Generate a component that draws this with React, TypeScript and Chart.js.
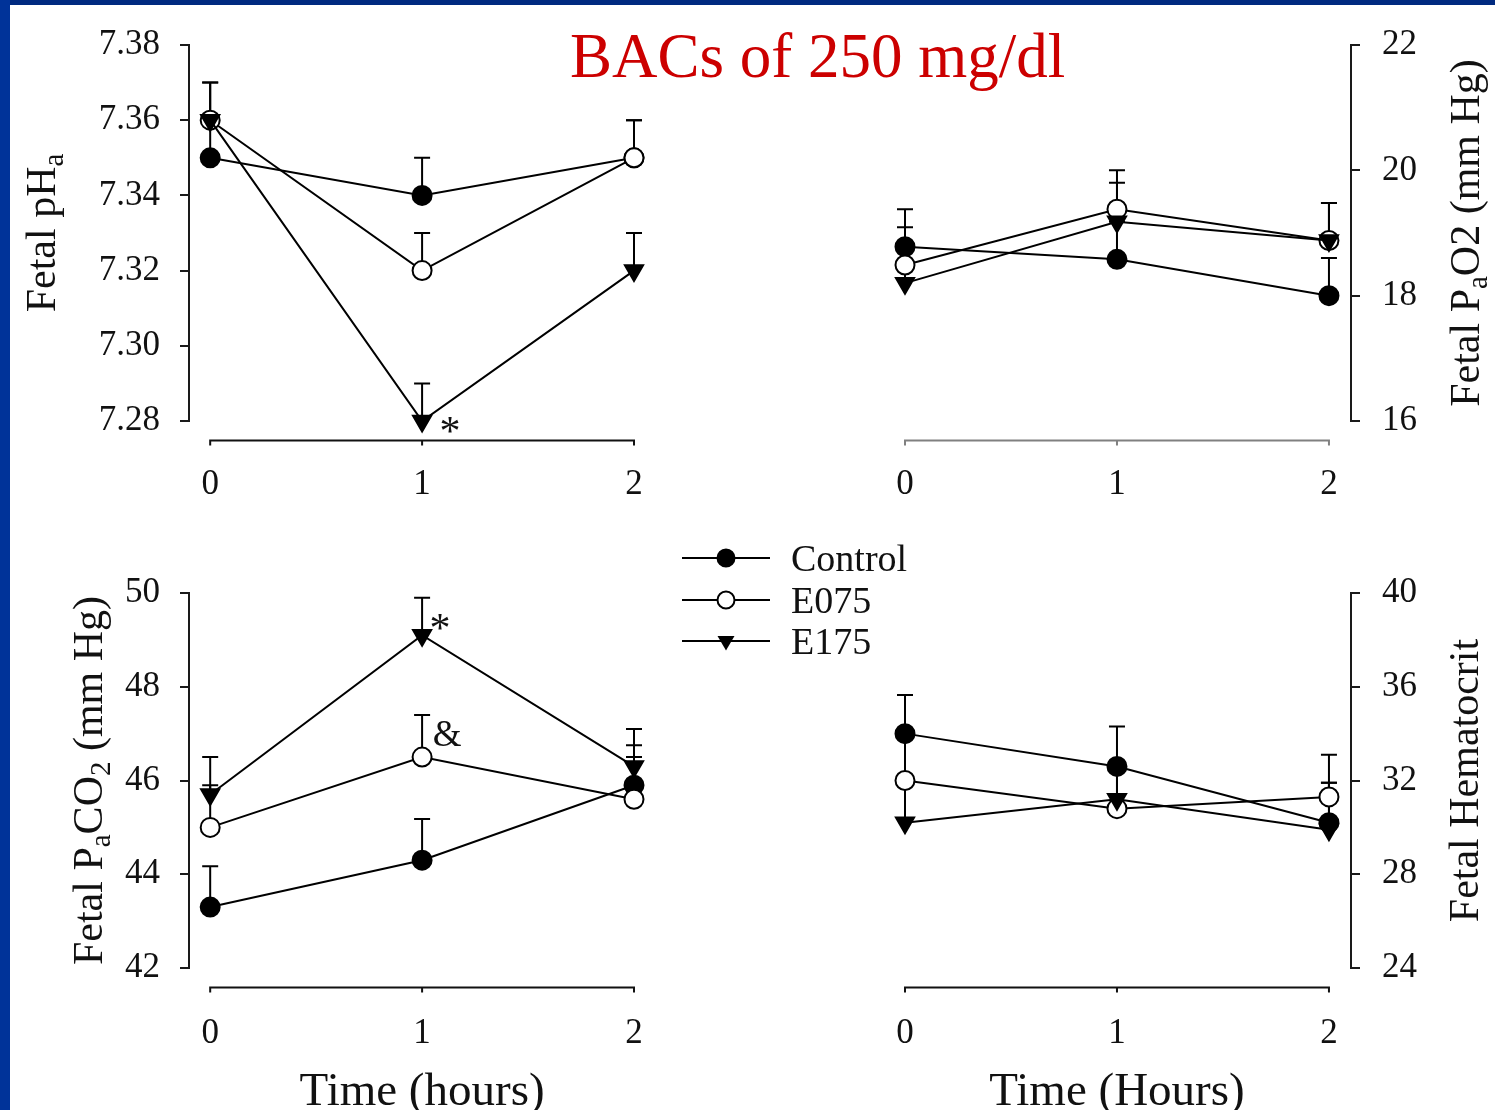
import React, { useEffect, useRef } from 'react';
import { Chart, registerables } from 'chart.js';

Chart.register(...registerables);

// ---------------- data ----------------
const timePoints = [0, 1, 2];
const timeTickLabels = ['0', '1', '2'];
const seriesNames = ['Control', 'E075', 'E175'];

// Fetal pHa
const phControl = [7.35, 7.34, 7.35];
const phE075 = [7.36, 7.32, 7.35];
const phE175 = [7.36, 7.28, 7.32];
const phControlSE = [0.01, 0.01, 0.01];
const phE075SE = [0.01, 0.01, 0.01];
const phE175SE = [0.01, 0.01, 0.01];
const phTicks = [7.28, 7.3, 7.32, 7.34, 7.36, 7.38];
const phTickLabels = ['7.28', '7.30', '7.32', '7.34', '7.36', '7.38'];

// Fetal PaO2 (mm Hg)
const po2Control = [18.78, 18.58, 18.0];
const po2E075 = [18.49, 19.38, 18.88];
const po2E175 = [18.2, 19.18, 18.88];
const po2ControlSE = [0.6, 0.6, 0.6];
const po2E075SE = [0.6, 0.62, 0.6];
const po2E175SE = [0.58, 0.62, 0.6];
const po2Ticks = [16, 18, 20, 22];
const po2TickLabels = ['16', '18', '20', '22'];

// Fetal PaCO2 (mm Hg)
const pco2Control = [43.3, 44.3, 45.9];
const pco2E075 = [45.0, 46.5, 45.6];
const pco2E175 = [45.7, 49.1, 46.3];
const pco2ControlSE = [0.87, 0.88, 0.6];
const pco2E075SE = [0.9, 0.9, 1.15];
const pco2E175SE = [0.8, 0.8, 0.8];
const pco2Ticks = [42, 44, 46, 48, 50];
const pco2TickLabels = ['42', '44', '46', '48', '50'];

// Fetal Hematocrit
const hctControl = [34.0, 32.6, 30.2];
const hctE075 = [32.0, 30.8, 31.3];
const hctE175 = [30.2, 31.2, 29.9];
const hctControlSE = [1.65, 1.7, 1.7];
const hctE075SE = [2.0, 1.8, 1.8];
const hctE175SE = [1.6, 1.4, 2.0];
const hctTicks = [24, 28, 32, 36, 40];
const hctTickLabels = ['24', '28', '32', '36', '40'];

// significance marks (data coordinates)
const phMarks = [{ x: 1, y: 7.279, text: '*' }];
const pco2Marks = [
  { x: 1, y: 49.37, text: '*' },
  { x: 1, y: 47.0, text: '&' },
];

// texts
const mainTitle = 'BACs of 250 mg/dl';
const phTitle = [{ t: 'Fetal pH' }, { t: 'a', sub: true }];
const po2Title = [{ t: 'Fetal P' }, { t: 'a', sub: true }, { t: 'O2 (mm Hg)' }];
const pco2Title = [
  { t: 'Fetal P' },
  { t: 'a', sub: true },
  { t: 'CO' },
  { t: '2', sub: true },
  { t: ' (mm Hg)' },
];
const hctTitle = [{ t: 'Fetal Hematocrit' }];
const timeTitleLeft = [{ t: 'Time (hours)' }];
const timeTitleRight = [{ t: 'Time (Hours)' }];

// ---------------- styles ----------------
const FONT = '"Liberation Serif", "Times New Roman", serif';
const INK = '#111111';

const seriesStyles = [
  { pointStyle: 'circle', radius: 9.5, fill: '#000000', rotation: 0, order: 2 },
  { pointStyle: 'circle', radius: 9.5, fill: '#ffffff', rotation: 0, order: 1 },
  { pointStyle: 'triangle', radius: 10.5, fill: '#000000', rotation: 180, order: 0 },
];

type Part = { t: string; sub?: boolean };

function drawRich(ctx: CanvasRenderingContext2D, parts: Part[], cx: number, cy: number, size: number, rot: number) {
  ctx.save();
  ctx.translate(cx, cy);
  ctx.rotate(rot);
  const fontFor = (p: Part) => `${p.sub ? Math.round(size * 0.68) : size}px ${FONT}`;
  let total = 0;
  const widths = parts.map((p) => {
    ctx.font = fontFor(p);
    const w = ctx.measureText(p.t).width;
    total += w;
    return w;
  });
  let x = -total / 2;
  ctx.fillStyle = INK;
  ctx.textAlign = 'left';
  ctx.textBaseline = 'alphabetic';
  const base = size * 0.33;
  parts.forEach((p, i) => {
    ctx.font = fontFor(p);
    ctx.fillText(p.t, x, base + (p.sub ? size * 0.2 : 0));
    x += widths[i];
  });
  ctx.restore();
}

type PanelCfg = {
  key: string;
  left: number;
  top: number;
  width: number;
  height: number;
  pad: { top: number; left: number; right: number; bottom: number };
  yPos: 'left' | 'right';
  yWidth: number;
  xHeight: number;
  xMin: number;
  xMax: number;
  yMin: number;
  yMax: number;
  yTicks: number[];
  yLabels: string[];
  values: number[][];
  errors: number[][];
  yTitle: Part[];
  yTitleX: number;
  xTitle: Part[] | null;
  xTitleY: number;
  xAxisColor: string;
  xLabelPad: number;
  yLabelPad: number;
  marks: { x: number; y: number; text: string }[];
  markDx: number[];
};

const panels: PanelCfg[] = [
  {
    key: 'ph', left: 0, top: 0, width: 700, height: 530,
    pad: { top: 45, left: 0, right: 66, bottom: 0 },
    yPos: 'left', yWidth: 189, xHeight: 109, xMin: -0.1, xMax: 2,
    yMin: 7.28, yMax: 7.38, yTicks: phTicks, yLabels: phTickLabels,
    values: [phControl, phE075, phE175], errors: [phControlSE, phE075SE, phE175SE],
    yTitle: phTitle, yTitleX: 41, xTitle: null, xTitleY: 0,
    xAxisColor: '#111111', xLabelPad: 43, yLabelPad: 20,
    marks: phMarks, markDx: [28],
  },
  {
    key: 'po2', left: 850, top: 0, width: 645, height: 530,
    pad: { top: 45, left: 55, right: 0, bottom: 0 },
    yPos: 'right', yWidth: 144, xHeight: 109, xMin: 0, xMax: 2.104,
    yMin: 16, yMax: 22, yTicks: po2Ticks, yLabels: po2TickLabels,
    values: [po2Control, po2E075, po2E175], errors: [po2ControlSE, po2E075SE, po2E175SE],
    yTitle: po2Title, yTitleX: 1465, xTitle: null, xTitleY: 0,
    xAxisColor: '#808080', xLabelPad: 43, yLabelPad: 22,
    marks: [], markDx: [],
  },
  {
    key: 'pco2', left: 0, top: 540, width: 700, height: 570,
    pad: { top: 53, left: 0, right: 66, bottom: 0 },
    yPos: 'left', yWidth: 189, xHeight: 142, xMin: -0.1, xMax: 2,
    yMin: 42, yMax: 50, yTicks: pco2Ticks, yLabels: pco2TickLabels,
    values: [pco2Control, pco2E075, pco2E175], errors: [pco2ControlSE, pco2E075SE, pco2E175SE],
    yTitle: pco2Title, yTitleX: 88, xTitle: timeTitleLeft, xTitleY: 1089,
    xAxisColor: '#111111', xLabelPad: 45, yLabelPad: 20,
    marks: pco2Marks, markDx: [18, 25],
  },
  {
    key: 'hct', left: 850, top: 540, width: 645, height: 570,
    pad: { top: 53, left: 55, right: 0, bottom: 0 },
    yPos: 'right', yWidth: 144, xHeight: 142, xMin: 0, xMax: 2.104,
    yMin: 24, yMax: 40, yTicks: hctTicks, yLabels: hctTickLabels,
    values: [hctControl, hctE075, hctE175], errors: [hctControlSE, hctE075SE, hctE175SE],
    yTitle: hctTitle, yTitleX: 1464, xTitle: timeTitleRight, xTitleY: 1089,
    xAxisColor: '#111111', xLabelPad: 45, yLabelPad: 22,
    marks: [], markDx: [],
  },
];

function makeDeco(p: PanelCfg) {
  return {
    id: 'deco_' + p.key,
    beforeDatasetsDraw(chart: any) {
      const ctx = chart.ctx as CanvasRenderingContext2D;
      const xs = chart.scales.x;
      const ys = chart.scales.y;
      ctx.save();
      ctx.strokeStyle = '#000000';
      ctx.lineWidth = 2;
      p.values.forEach((vals, s) => {
        vals.forEach((v, i) => {
          const e = p.errors[s][i];
          const px = xs.getPixelForValue(timePoints[i]);
          const y0 = ys.getPixelForValue(v);
          const y1 = ys.getPixelForValue(v + e);
          ctx.beginPath();
          ctx.moveTo(px, y0);
          ctx.lineTo(px, y1);
          ctx.moveTo(px - 8, y1);
          ctx.lineTo(px + 8, y1);
          ctx.stroke();
        });
      });
      ctx.restore();
    },
    afterDraw(chart: any) {
      const ctx = chart.ctx as CanvasRenderingContext2D;
      const xs = chart.scales.x;
      const ys = chart.scales.y;
      const area = chart.chartArea;
      // detached x axis
      const ay = area.bottom + 19.5;
      const x0 = xs.getPixelForValue(timePoints[0]);
      const x1 = xs.getPixelForValue(timePoints[timePoints.length - 1]);
      ctx.save();
      ctx.strokeStyle = p.xAxisColor;
      ctx.lineWidth = 2;
      ctx.beginPath();
      ctx.moveTo(x0 - 1, ay);
      ctx.lineTo(x1 + 1, ay);
      timePoints.forEach((t) => {
        const px = xs.getPixelForValue(t);
        ctx.moveTo(px, ay);
        ctx.lineTo(px, ay + 5);
      });
      ctx.stroke();
      ctx.restore();
      // y title
      drawRich(ctx, p.yTitle, p.yTitleX - p.left, (area.top + area.bottom) / 2, 42, -Math.PI / 2);
      // x title
      if (p.xTitle) {
        drawRich(ctx, p.xTitle, (x0 + x1) / 2, p.xTitleY - p.top, 47, 0);
      }
      // significance marks
      p.marks.forEach((m, i) => {
        const px = xs.getPixelForValue(m.x) + (p.markDx[i] || 0);
        const py = ys.getPixelForValue(m.y);
        const star = m.text === '*';
        const size = star ? 42 : 37;
        ctx.save();
        ctx.font = `${size}px ${FONT}`;
        ctx.fillStyle = INK;
        ctx.textAlign = 'center';
        ctx.textBaseline = 'alphabetic';
        const k = star ? 0.47 : 0.34;
        ctx.fillText(m.text, px, py + size * k);
        ctx.restore();
      });
    },
  };
}

function Panel({ cfg }: { cfg: PanelCfg }) {
  const ref = useRef<HTMLCanvasElement | null>(null);
  useEffect(() => {
    if (!ref.current) return;
    const datasets = cfg.values.map((vals, s) => {
      const st = seriesStyles[s];
      return {
        label: seriesNames[s],
        data: vals.map((v, i) => ({ x: timePoints[i], y: v })),
        borderColor: '#000000',
        borderWidth: 2,
        tension: 0,
        pointStyle: st.pointStyle,
        pointRadius: st.radius,
        pointHoverRadius: st.radius,
        pointBackgroundColor: st.fill,
        pointBorderColor: '#000000',
        pointBorderWidth: 2,
        pointRotation: st.rotation,
        order: st.order,
        clip: false,
        fill: false,
      };
    });
    const tickFont = { family: FONT, size: 35 };
    const chart = new Chart(ref.current, {
      type: 'line',
      data: { datasets } as any,
      options: {
        animation: false,
        responsive: false,
        devicePixelRatio: 1,
        events: [],
        layout: { padding: cfg.pad },
        plugins: {
          legend: { display: false },
          title: { display: false },
          tooltip: { enabled: false },
        },
        scales: {
          x: {
            type: 'linear',
            min: cfg.xMin,
            max: cfg.xMax,
            afterBuildTicks: (scale: any) => {
              scale.ticks = timePoints.map((v) => ({ value: v }));
            },
            afterFit: (scale: any) => {
              scale.height = cfg.xHeight;
            },
            grid: { display: false, drawTicks: false },
            border: { display: false },
            ticks: {
              font: tickFont,
              color: INK,
              padding: cfg.xLabelPad,
              maxRotation: 0,
              autoSkip: false,
              callback: (v: any) => {
                const idx = timePoints.indexOf(Number(v));
                return idx >= 0 ? timeTickLabels[idx] : '';
              },
            },
          },
          y: {
            type: 'linear',
            position: cfg.yPos,
            min: cfg.yMin,
            max: cfg.yMax,
            afterBuildTicks: (scale: any) => {
              scale.ticks = cfg.yTicks.map((v) => ({ value: v }));
            },
            afterFit: (scale: any) => {
              scale.width = cfg.yWidth;
            },
            grid: {
              display: true,
              drawOnChartArea: false,
              drawTicks: true,
              tickLength: 9,
              color: '#1a1a1a',
              lineWidth: 2,
            },
            border: { display: true, color: '#1a1a1a', width: 2 },
            ticks: {
              font: tickFont,
              color: INK,
              padding: cfg.yLabelPad,
              autoSkip: false,
              callback: (v: any) => {
                const idx = cfg.yTicks.indexOf(Number(v));
                return idx >= 0 ? cfg.yLabels[idx] : '';
              },
            },
          },
        },
      } as any,
      plugins: [makeDeco(cfg) as any],
    });
    return () => chart.destroy();
  }, [cfg]);
  return (
    <canvas
      ref={ref}
      width={cfg.width}
      height={cfg.height}
      style={{ position: 'absolute', left: cfg.left, top: cfg.top, width: cfg.width, height: cfg.height }}
    />
  );
}

function LegendMarker({ s }: { s: number }) {
  const cx = 46;
  const cy = 12;
  let marker: React.ReactNode;
  if (s === 0) marker = <circle cx={cx} cy={cy} r={8.5} fill="#000" stroke="#000" strokeWidth={2} />;
  else if (s === 1) marker = <circle cx={cx} cy={cy} r={8.5} fill="#fff" stroke="#000" strokeWidth={2} />;
  else marker = <polygon points={`${cx - 8.5},${cy - 5} ${cx + 8.5},${cy - 5} ${cx},${cy + 9.5}`} fill="#000" />;
  return (
    <svg width={92} height={24} style={{ position: 'absolute', left: 0, top: 0 }}>
      <line x1={2} y1={cy} x2={90} y2={cy} stroke="#000" strokeWidth={2} />
      {marker}
    </svg>
  );
}

export default function App() {
  const legendY = [558, 600, 641];
  return (
    <div
      style={{
        position: 'fixed',
        left: 0,
        top: 0,
        width: 1495,
        height: 1110,
        overflow: 'hidden',
        background: '#ffffff',
        fontFamily: FONT,
      }}
    >
      {panels.map((p) => (
        <Panel key={p.key} cfg={p} />
      ))}
      <div
        style={{
          position: 'absolute',
          left: 570,
          top: 24,
          fontSize: 63,
          lineHeight: '64px',
          color: '#cc0000',
          whiteSpace: 'nowrap',
          fontFamily: FONT,
        }}
      >
        {mainTitle}
      </div>
      {seriesNames.map((name, s) => (
        <div key={name} style={{ position: 'absolute', left: 680, top: legendY[s] - 12, width: 240, height: 24 }}>
          <LegendMarker s={s} />
          <div
            style={{
              position: 'absolute',
              left: 111,
              top: -8,
              height: 40,
              lineHeight: '40px',
              fontSize: 38,
              color: INK,
              whiteSpace: 'nowrap',
              fontFamily: FONT,
            }}
          >
            {name}
          </div>
        </div>
      ))}
      <div style={{ position: 'absolute', left: 0, top: 0, width: 1495, height: 5, background: '#002a80' }} />
      <div style={{ position: 'absolute', left: 0, top: 0, width: 10, height: 1110, background: '#003399' }} />
    </div>
  );
}
